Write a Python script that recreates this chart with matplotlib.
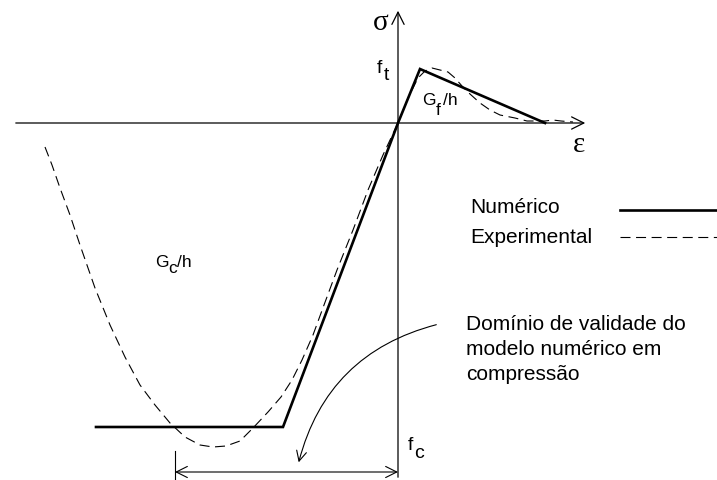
import matplotlib.pyplot as plt
from matplotlib.patches import FancyArrowPatch

plt.rcParams['font.family'] = ['Liberation Sans', 'DejaVu Sans']

# numerical model (strain, stress) - schematic units
eps_num = [-302, -115, 0, 22, 147]
sig_num = [-304, -304, 0, 54, 0]

# experimental curve (schematic)
eps_exp = [-353, -346, -338, -328, -318, -303, -288, -273, -258, -243, -228,
           -213, -198, -185, -172, -158, -145, -130, -117, -106, -96, -85,
           -74, -61, -45, -30, -15, 0, 10, 20, 27, 34, 42, 50, 57, 64, 72,
           82, 92, 102, 117, 129, 147, 155, 163, 175]
sig_exp = [-24, -42, -65, -92, -122, -165, -202, -234, -262, -282, -300,
           -314, -322, -324, -323, -318, -305, -289, -274, -257, -237, -212,
           -182, -147, -107, -67, -32, 0, 25, 45, 52, 55, 53, 51, 45, 37, 29,
           20, 13, 8, 5, 2, 2, 3, 2, 1]

fig = plt.figure(figsize=(7.17, 4.8), dpi=100)
ax = fig.add_axes([0, 0, 1, 1])
ax.set_xlim(-398, 319)
ax.set_ylim(-357, 123)
ax.axis('off')

# axes with open arrow heads
ax.annotate('', xy=(190, 0), xytext=(-385, 0),
            arrowprops=dict(arrowstyle='->', lw=0.9, mutation_scale=22, color='black'))
ax.annotate('', xy=(0, 115), xytext=(0, -357),
            arrowprops=dict(arrowstyle='->', lw=0.9, mutation_scale=22, color='black'))

ax.plot(eps_exp, sig_exp, color='black', lw=0.8, ls=(0, (9, 5)))
ax.plot(eps_num, sig_num, color='black', lw=1.9, solid_joinstyle='miter')

ax.text(-17, 100, 'σ', fontsize=21, family='Liberation Serif', ha='center', va='center')
ax.text(181, -22, 'ε', fontsize=21, family='Liberation Serif', ha='center', va='center')


def label(x, y, parts, size):
    # parts: (text, dx, dy) pieces placed relative to the base point
    for s, dx, dy in parts:
        ax.text(x + dx, y + dy, s, fontsize=size, ha='left', va='baseline')


label(-21, 50, [('f', 0, 0), ('t', 7, -7)], 14)
label(10, -327, [('f', 0, 0), ('c', 6, -8)], 14)
label(-243, -144, [('G', 0, 0), ('c', 13.5, -6), ('/h', 22, 0)], 12.5)
label(24, 18, [('G', 0, 0), ('f', 14, -10), ('/h', 21, 0)], 12.5)

# legend
ax.text(72, -90, 'Numérico', fontsize=15, ha='left', va='baseline')
ax.text(72, -120, 'Experimental', fontsize=15, ha='left', va='baseline')
ax.plot([222, 319], [-87, -87], color='black', lw=1.9)
ax.plot([222, 319], [-114, -114], color='black', lw=0.8, ls=(0, (9, 5)))

for i, line in enumerate(['Domínio de validade do', 'modelo numérico em', 'compressão']):
    ax.text(68, -207 - 25 * i, line, fontsize=15, ha='left', va='baseline')

# curved pointer to the dimension line
ax.add_patch(FancyArrowPatch((41, -201), (-100, -342), connectionstyle='arc3,rad=0.3',
                             arrowstyle='->', mutation_scale=18, lw=0.8, color='black'))

# dimension line for the compression domain
ax.annotate('', xy=(-223, -349), xytext=(0, -349),
            arrowprops=dict(arrowstyle='<->', lw=0.8, mutation_scale=20, color='black',
                            shrinkA=0, shrinkB=0))
ax.plot([-223, -223], [-328, -357], color='black', lw=0.8)

fig.savefig('out.png', dpi=100)
